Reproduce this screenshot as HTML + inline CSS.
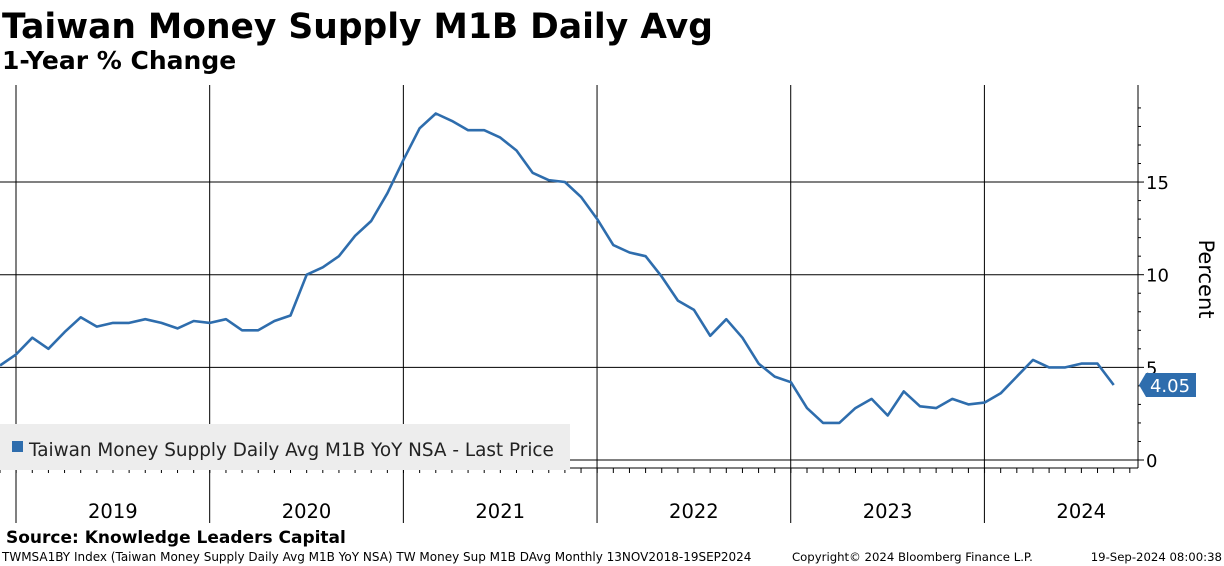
<!DOCTYPE html>
<html><head><meta charset="utf-8"><style>
body{margin:0;background:#fff;width:1224px;height:566px;overflow:hidden;font-family:"DejaVu Sans","Liberation Sans",sans-serif}
svg{position:absolute;left:0;top:0}
</style></head><body>
<svg width="1224" height="566" font-family="DejaVu Sans, Liberation Sans, sans-serif">
<text x="2" y="38" font-size="34.5" font-weight="bold">Taiwan Money Supply M1B Daily Avg</text>
<text x="2" y="69" font-size="25" font-weight="bold">1-Year % Change</text>
<g id="grid"></g>
<g id="axes"></g>
<rect x="0" y="424" width="570" height="46" fill="#ededed"/>
<rect x="12" y="441" width="11" height="11" fill="#2e6dad"/>
<text x="29" y="456" font-size="18.4" fill="#222">Taiwan Money Supply Daily Avg M1B YoY NSA - Last Price</text>
<path id="line" fill="none" stroke="#2e6dad" stroke-width="2.6" stroke-linejoin="round"/>
<g id="tag"></g>
<text x="1199" y="279" font-size="21" transform="rotate(90 1199 279)" text-anchor="middle">Percent</text>
<text x="6" y="543" font-size="17" font-weight="bold">Source: Knowledge Leaders Capital</text>
<text x="2" y="561" font-size="12">TWMSA1BY Index (Taiwan Money Supply Daily Avg M1B YoY NSA) TW Money Sup M1B DAvg  Monthly 13NOV2018-19SEP2024</text>
<text x="792" y="561" font-size="11.7">Copyright© 2024 Bloomberg Finance L.P.</text>
<text x="1222" y="561" font-size="11.7" text-anchor="end">19-Sep-2024 08:00:38</text>
</svg>
<script>
const years=["2019","2020","2021","2022","2023","2024"];
const yTicks=[0,5,10,15];
const values=[5.1,5.7,6.6,6.0,6.9,7.7,7.2,7.4,7.4,7.6,7.4,7.1,7.5,7.4,7.6,7.0,7.0,7.5,7.8,10.0,10.4,11.0,12.1,12.9,14.4,16.2,17.9,18.7,18.3,17.8,17.8,17.4,16.7,15.5,15.1,15.0,14.2,13.0,11.6,11.2,11.0,9.9,8.6,8.1,6.7,7.6,6.6,5.2,4.5,4.2,2.8,2.0,2.0,2.8,3.3,2.4,3.7,2.9,2.8,3.3,3.0,3.1,3.6,4.5,5.4,5.0,5.0,5.2,5.2,4.05];
const NS="http://www.w3.org/2000/svg";
const M=16.14;
const xMonth=i=>i*M;
const xYear=k=>16+k*12*M;
const yV=v=>460-18.53*v;
function mk(tag,attrs,parent){const e=document.createElementNS(NS,tag);for(const k in attrs)e.setAttribute(k,attrs[k]);parent.appendChild(e);return e;}
const grid=document.getElementById('grid'),axes=document.getElementById('axes');
yTicks.forEach(t=>{
 const l=mk('line',{x1:0,x2:1138,y1:yV(t),y2:yV(t),stroke:'#000','stroke-width':1},grid);
 
 
 const tx=mk('text',{x:1146,y:yV(t)+7,'font-size':18},axes);
 tx.textContent=t;
 
 
 mk('line',{x1:1138,x2:1144,y1:yV(t),y2:yV(t),stroke:'#000'},axes);
});
for(let v=1;v<=19;v++){if(v%5)mk('line',{x1:1138,x2:1141,y1:yV(v),y2:yV(v),stroke:'#000'},axes);}
mk('line',{x1:1138,x2:1138,y1:85,y2:468,stroke:'#000'},axes);
mk('line',{x1:0,x2:1138,y1:468,y2:468,stroke:'#000'},axes);
for(let k=0;k<=5;k++){
 const l=mk('line',{x1:xYear(k),x2:xYear(k),y1:85,y2:523,stroke:'#000'},grid);
 
 
}
years.forEach((y,k)=>{
 const tx=mk('text',{x:xYear(k)+6*M,y:518,'font-size':19.5,'text-anchor':'middle'},axes);
 tx.textContent=y;
 
 
});
for(let i=0;i<values.length+1;i++){mk('line',{x1:xMonth(i),x2:xMonth(i),y1:468,y2:473,stroke:'#000'},axes);}
document.getElementById('line').setAttribute('d',values.map((v,i)=>(i?'L':'M')+xMonth(i).toFixed(1)+','+yV(v).toFixed(1)).join(''));
const last=values[values.length-1],ly=yV(last);
const tag=document.getElementById('tag');
const p=mk('path',{d:`M1139,${ly} L1146,${ly-12} L1196,${ly-12} L1196,${ly+12} L1146,${ly+12} Z`,fill:'#2e6dad'},tag);


const tt=mk('text',{x:1170,y:ly+7,'font-size':18,fill:'#fff','text-anchor':'middle'},tag);
tt.textContent=last.toFixed(2);


</script>
</body></html>
